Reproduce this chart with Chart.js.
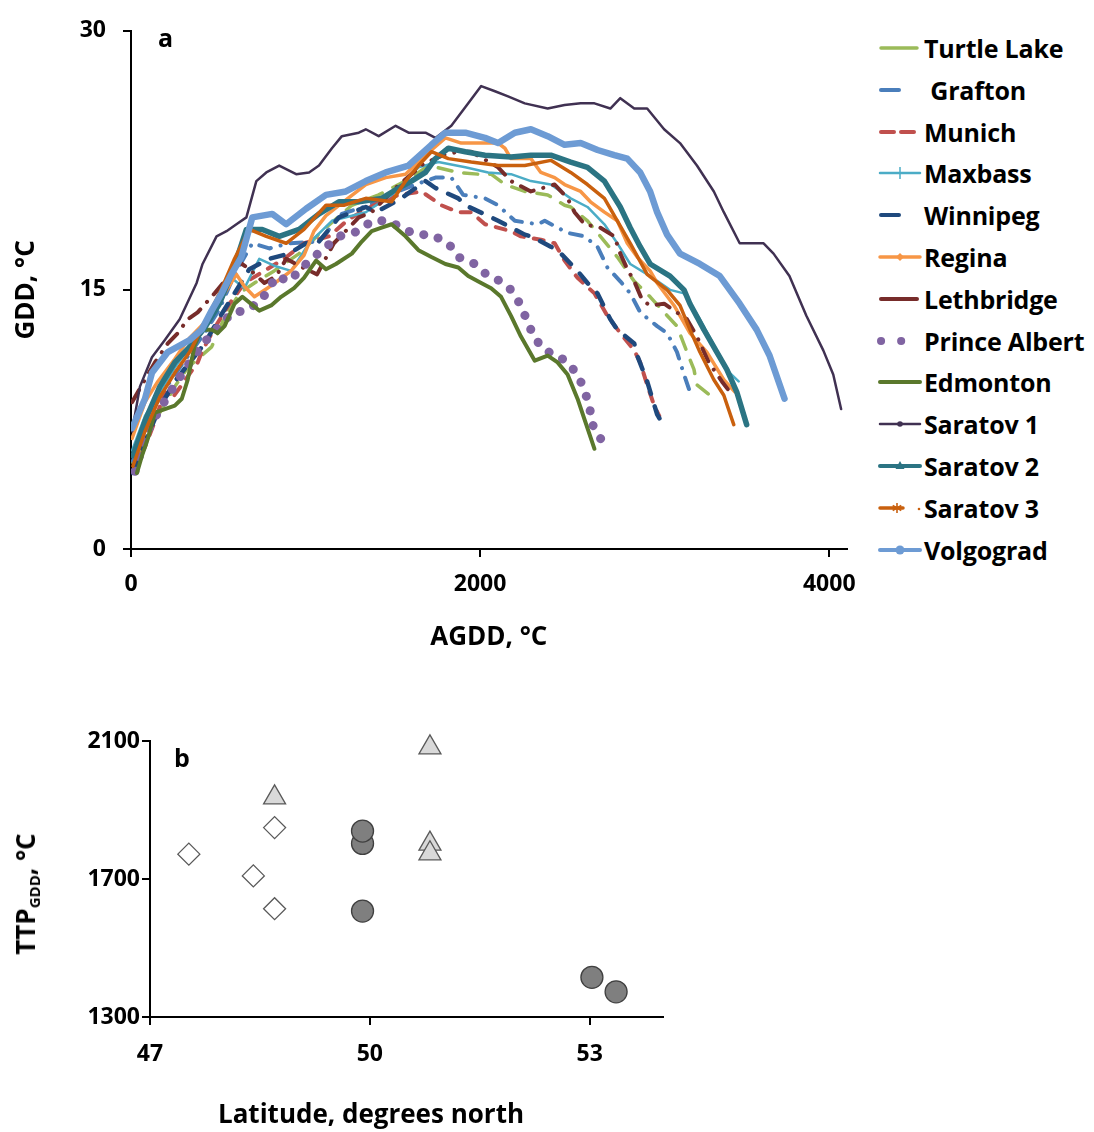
<!DOCTYPE html>
<html>
<head>
<meta charset="utf-8">
<title>GDD vs AGDD</title>
<script src="https://cdn.jsdelivr.net/npm/chart.js@4.4.1/dist/chart.umd.min.js"></script>
<style>
  html, body { margin: 0; padding: 0; background: #fff; }
  body { width: 1094px; height: 1132px; position: relative; overflow: hidden;
         font-family: "Open Sans", "Liberation Sans", sans-serif; font-weight: 700; color: #000; }
  canvas { position: absolute; left: 0; }
  #chartA { top: 0; }
  #chartB { top: 660px; }
  .panel-tag { position: absolute; font-size: 25px; line-height: 1; }
  .key-row { position: absolute; left: 876px; height: 30px; display: flex; align-items: center;
             font-size: 25px; white-space: pre; letter-spacing: -0.2px; }
  .key-row svg { flex: none; }
  .axis-name { position: absolute; font-size: 26px; line-height: 1; white-space: nowrap; transform: translate(-50%, -50%); }
  .axis-name sub { font-size: 15px; vertical-align: -5px; }
</style>
</head>
<body>
<canvas id="chartA" width="870" height="660"></canvas>
<canvas id="chartB" width="700" height="472"></canvas>
<div class="panel-tag" style="left:158px;top:25px">a</div>
<div class="panel-tag" style="left:174px;top:745px">b</div>
<div class="axis-name" style="left:27px;top:894px;transform:translate(-50%,-50%) rotate(-90deg)">TTP<sub>GDD</sub>, °C</div>
<div class="axis-name" style="left:371px;top:1113px">Latitude, degrees north</div>
<div id="key"></div>
<script>
// panel a: daily GDD against accumulated GDD, one curve per site ([AGDD, GDD])
const agddTicks = [0, 2000, 4000];
const gddTicks = [0, 15, 30];

const siteNames = ['Turtle Lake', ' Grafton', 'Munich', 'Maxbass', 'Winnipeg', 'Regina', 'Lethbridge',
  'Prince Albert', 'Edmonton', 'Saratov 1', 'Saratov 2', 'Saratov 3', 'Volgograd'];

const turtleLake = [[11,5.0],[80,6.2],[165,7.9],[251,9.4],[325,10.5],[393,11.1],[462,11.7],[536,13.4],[621,14.8],[707,15.4],[820,16.1],[963,17.1],[1105,18.5],[1265,19.9],[1419,20.5],[1590,21.4],[1704,22.2],[1875,21.8],[1989,21.7],[2063,21.7],[2142,21.1],[2256,20.7],[2387,20.5],[2484,19.9],[2519,19.8],[2615,19.0],[2689,18.1],[2786,16.9],[2883,15.5],[2974,14.6],[3054,13.7],[3128,12.9],[3185,11.4],[3225,10.4],[3242,9.5],[3316,8.9]];
const grafton = [[11,5.1],[80,7.1],[165,8.8],[251,10.1],[336,11.3],[422,12.5],[507,13.9],[593,15.9],[695,17.7],[792,17.4],[906,17.7],[1077,17.8],[1208,19.4],[1362,19.9],[1504,20.6],[1630,21.1],[1744,21.5],[1835,21.5],[1903,20.5],[2028,20.3],[2103,19.9],[2199,19.0],[2330,18.8],[2370,19.0],[2501,18.3],[2598,18.1],[2672,17.5],[2729,16.3],[2803,15.5],[2860,14.8],[2917,13.7],[3014,12.9],[3071,12.5],[3128,11.4],[3168,10.1],[3202,9.1]];
const munich = [[11,4.5],[80,5.9],[137,7.4],[194,9.1],[234,8.7],[291,9.5],[382,10.8],[405,11.4],[479,12.8],[564,14.2],[650,15.4],[764,16.1],[877,16.8],[991,17.7],[1134,18.1],[1248,19.1],[1390,19.9],[1533,20.5],[1664,20.7],[1778,19.9],[1875,19.5],[1949,19.5],[2028,18.8],[2177,18.4],[2234,18.1],[2348,17.9],[2427,17.7],[2484,16.7],[2558,15.7],[2655,14.8],[2729,13.5],[2803,12.5],[2883,11.5],[2917,10.8],[2957,9.5],[2997,8.3],[3026,7.7]];
const maxbass = [[6,5.7],[80,7.7],[165,9.1],[251,10.5],[336,11.7],[422,12.8],[507,14.2],[575,15.7],[650,15.1],[735,16.8],[820,16.4],[917,16.1],[1020,17.7],[1151,19.0],[1345,19.5],[1493,20.5],[1647,22.1],[1761,22.4],[1915,22.1],[2046,21.8],[2177,21.7],[2291,21.3],[2405,21.1],[2519,20.3],[2615,19.8],[2712,18.8],[2786,17.7],[2860,16.5],[2974,15.8],[3088,15.0],[3168,14.8],[3259,13.3],[3356,11.5],[3430,10.2],[3481,9.7]];
const winnipeg = [[11,4.4],[80,6.2],[165,8.2],[251,9.7],[336,10.8],[422,11.9],[507,13.4],[593,14.8],[678,16.2],[792,16.8],[906,17.1],[1003,17.7],[1077,17.8],[1191,19.2],[1345,19.8],[1402,19.5],[1533,20.2],[1687,21.3],[1744,20.9],[1875,20.3],[1915,19.9],[2063,19.2],[2103,19.0],[2256,18.2],[2291,18.1],[2405,17.5],[2444,17.3],[2558,16.1],[2615,15.4],[2672,14.8],[2746,13.3],[2786,12.7],[2883,11.9],[2900,11.2],[2957,9.7],[3014,7.8],[3054,7.1]];
const regina = [[6,6.4],[80,8.5],[154,9.7],[251,11.0],[325,12.1],[382,12.7],[479,13.7],[536,14.8],[604,15.9],[650,15.2],[707,14.6],[781,15.1],[838,15.5],[917,16.1],[991,17.0],[1048,18.4],[1117,19.3],[1191,19.9],[1345,21.1],[1459,21.5],[1573,21.7],[1687,22.8],[1801,23.8],[1892,23.5],[2028,23.5],[2103,23.5],[2142,23.2],[2177,22.6],[2291,22.6],[2348,21.8],[2427,21.5],[2484,21.1],[2576,20.7],[2632,20.1],[2712,19.5],[2786,19.0],[2843,17.7],[2900,16.9],[2974,16.1],[3014,15.4],[3111,14.1],[3202,12.5],[3299,11.4],[3396,9.8],[3459,9.1]];
const lethbridge = [[6,8.5],[80,9.8],[137,10.8],[211,11.9],[268,12.5],[325,13.3],[382,13.7],[479,14.8],[553,15.7],[621,16.6],[678,16.2],[764,15.4],[832,15.8],[889,16.8],[963,16.4],[1066,15.9],[1162,17.7],[1305,19.2],[1379,19.5],[1504,20.8],[1607,21.7],[1675,22.3],[1789,22.8],[1875,23.0],[1949,23.0],[2103,22.1],[2177,21.3],[2291,20.7],[2427,21.1],[2501,20.3],[2541,19.5],[2598,18.8],[2689,18.6],[2769,18.1],[2803,17.1],[2843,16.2],[2883,15.5],[2929,14.4],[2974,14.1],[3054,14.2],[3185,13.3],[3242,12.3],[3310,10.8],[3385,9.7],[3453,8.8]];
const princeAlbert = [[23,4.5],[63,5.9],[108,7.1],[177,8.3],[251,9.5],[336,10.8],[405,11.8],[496,12.8],[581,13.7],[661,13.8],[746,14.4],[792,15.1],[832,15.8],[906,15.5],[1003,16.5],[1094,17.3],[1191,18.1],[1305,18.4],[1379,19.0],[1476,19.0],[1550,18.6],[1630,18.2],[1721,18.2],[1818,17.7],[1875,16.9],[1971,16.5],[2046,15.8],[2120,15.5],[2177,15.0],[2234,14.1],[2273,13.1],[2313,12.2],[2370,11.5],[2444,11.2],[2501,10.8],[2558,10.1],[2598,9.2],[2627,8.2],[2644,7.2],[2701,6.2]];
const edmonton = [[34,4.4],[63,5.4],[97,6.4],[137,7.9],[194,8.1],[251,8.3],[291,8.7],[325,9.8],[365,11.8],[405,12.7],[462,12.7],[496,12.5],[536,12.9],[593,14.2],[638,14.6],[735,13.8],[803,14.1],[860,14.6],[934,15.1],[991,15.7],[1060,16.7],[1117,16.2],[1174,16.5],[1265,17.1],[1322,17.8],[1379,18.4],[1436,18.6],[1493,18.8],[1573,18.1],[1647,17.3],[1721,16.9],[1801,16.5],[1875,16.3],[1932,15.8],[2006,15.4],[2063,15.1],[2120,14.6],[2177,13.5],[2234,12.3],[2313,10.9],[2387,11.2],[2444,10.8],[2501,10.1],[2558,8.7],[2598,7.5],[2655,5.8]];
const saratov1 = [[6,6.8],[51,9.4],[120,11.1],[194,12.1],[279,13.3],[376,15.4],[410,16.5],[490,18.1],[547,18.4],[604,18.8],[661,19.2],[718,21.3],[775,21.8],[849,22.2],[946,21.7],[1020,21.8],[1077,22.2],[1151,23.2],[1208,23.9],[1305,24.1],[1345,24.3],[1419,23.9],[1516,24.5],[1590,24.1],[1687,24.1],[1744,23.8],[1835,24.5],[1932,25.8],[2006,26.8],[2085,26.5],[2160,26.2],[2256,25.8],[2387,25.5],[2484,25.7],[2576,25.8],[2655,25.8],[2746,25.5],[2803,26.1],[2883,25.5],[2957,25.5],[3054,24.3],[3145,23.5],[3242,22.2],[3339,20.7],[3396,19.5],[3487,17.7],[3624,17.7],[3681,17.1],[3772,15.8],[3869,13.5],[3966,11.5],[4023,10.1],[4068,8.1]];
const saratov2 = [[11,5.4],[80,7.4],[165,9.4],[251,10.8],[336,11.7],[422,12.8],[507,14.2],[593,16.4],[661,18.5],[752,18.5],[849,18.1],[963,18.5],[1077,19.4],[1191,20.1],[1305,20.1],[1436,20.3],[1533,20.9],[1607,21.3],[1687,21.8],[1744,22.6],[1818,23.2],[1915,23.0],[2028,22.8],[2177,22.7],[2291,22.8],[2405,22.8],[2519,22.4],[2615,22.1],[2712,21.3],[2803,19.8],[2860,18.6],[2917,17.5],[2974,16.5],[3088,15.8],[3168,15.0],[3202,14.2],[3282,12.7],[3356,11.4],[3413,10.4],[3470,9.1],[3527,7.2]];
const saratov3 = [[11,4.8],[80,6.8],[165,8.8],[251,10.2],[336,11.4],[422,13.1],[507,14.8],[593,16.8],[678,18.5],[775,18.1],[889,17.7],[991,18.5],[1117,19.9],[1219,19.9],[1345,20.3],[1493,20.1],[1573,21.3],[1647,22.2],[1721,23.0],[1818,22.6],[1949,22.4],[2103,22.2],[2256,22.2],[2405,22.5],[2519,21.8],[2615,21.1],[2712,20.3],[2786,19.0],[2860,17.7],[2957,15.9],[3071,15.0],[3145,14.1],[3202,12.7],[3259,11.4],[3339,9.8],[3396,8.9],[3453,7.2]];
const volgograd = [[6,7.0],[80,8.7],[120,10.2],[211,11.4],[336,12.1],[405,12.7],[462,13.8],[519,14.8],[575,15.9],[632,16.9],[695,19.2],[809,19.4],[889,18.8],[1003,19.7],[1117,20.5],[1231,20.7],[1345,21.3],[1459,21.8],[1590,22.2],[1721,23.4],[1801,24.1],[1915,24.1],[2028,23.8],[2103,23.5],[2199,24.1],[2291,24.3],[2387,23.9],[2484,23.4],[2576,23.5],[2673,23.1],[2769,22.8],[2843,22.6],[2917,21.8],[2974,20.7],[3014,19.5],[3071,18.2],[3145,17.1],[3259,16.5],[3373,15.8],[3487,14.2],[3584,12.7],[3658,11.2],[3744,8.7]];

// panel b: thermal time to peak vs latitude, three marker groups
const latTicks = [47, 50, 53];
const ttpTicks = [1300, 1700, 2100];
const diamondLat = [47.53, 48.70, 48.41, 48.70];
const diamondTtp = [1772, 1849, 1709, 1614];
const triangleLat = [48.70, 50.82, 50.82, 50.82];
const triangleTtp = [1936, 2081, 1802, 1774];
const circleLat = [49.90, 49.90, 49.90, 53.03, 53.36];
const circleTtp = [1803, 1839, 1607, 1415, 1373];

const curves = [turtleLake, grafton, munich, maxbass, winnipeg, regina, lethbridge,
  princeAlbert, edmonton, saratov1, saratov2, saratov3, volgograd];

// line looks, roughly the excel styles
const looks = [
  { color: '#9bbb59', width: 3.5, dash: [14, 12], key: { x1: 5, x2: 41 } },
  { color: '#4a7ebb', width: 4, dash: [12, 10, 0.1, 10], key: { x1: 5, x2: 23 } },
  { color: '#c0504d', width: 4, dash: [10, 10], key: { x1: 5, x2: 42, dash: '13 7' } },
  { color: '#4bacc6', width: 2.5, dash: [], key: { x1: 4, x2: 44, mark: 'plus' } },
  { color: '#1f497d', width: 4.5, dash: [13, 13], key: { x1: 5, x2: 23 } },
  { color: '#f79646', width: 3.5, dash: [], key: { x1: 4, x2: 44, mark: 'diamond' } },
  { color: '#772c2a', width: 4, dash: [14, 10, 0.1, 10], key: { x1: 5, x2: 41 } },
  { color: '#8064a2', width: 9, dash: [0.1, 15], key: { x1: 5, x2: 45, dash: '0.1 20', w: 8 } },
  { color: '#5a782c', width: 4, dash: [], key: { x1: 4, x2: 44 } },
  { color: '#403152', width: 2.5, dash: [], key: { x1: 4, x2: 44, mark: 'dot' } },
  { color: '#2b7483', width: 5.5, dash: [], key: { x1: 4, x2: 44, mark: 'triangle' } },
  { color: '#c9600e', width: 3.5, dash: [], key: { x1: 4, x2: 27, mark: 'star' } },
  { color: '#6d9bd4', width: 6.5, dash: [], key: { x1: 4, x2: 44, mark: 'circle' } }
];

const fam = '"Open Sans", "Liberation Sans", sans-serif';
const boldFont = (size) => ({ family: fam, size: size, weight: 'bold' });
const plain = (v) => String(v);

const siteSets = curves.map((pts, i) => ({
  label: siteNames[i].trim(),
  data: pts.map(p => ({ x: p[0], y: p[1] })),
  showLine: true,
  pointRadius: 0,
  borderColor: looks[i].color,
  backgroundColor: looks[i].color,
  borderWidth: looks[i].width,
  borderDash: looks[i].dash,
  borderCapStyle: 'round',
  borderJoinStyle: 'round',
  tension: 0,
  order: curves.length - i   // later sites on top, like excel
}));

new Chart(document.getElementById('chartA'), {
  type: 'scatter',
  data: { datasets: siteSets },
  options: {
    responsive: false,
    animation: false,
    devicePixelRatio: 1,
    layout: { padding: { left: 0, top: 24, right: 19, bottom: 0 } },
    plugins: { legend: { display: false }, tooltip: { enabled: false } },
    scales: {
      x: {
        type: 'linear', min: 0, max: 4100,
        afterBuildTicks: (s) => { s.ticks = agddTicks.map(v => ({ value: v })); },
        afterFit: (s) => { s.height = 111; },
        border: { color: '#000', width: 2 },
        grid: { drawOnChartArea: false, color: '#000', lineWidth: 2, tickLength: 8 },
        ticks: { color: '#000', font: boldFont(23), padding: 14, maxRotation: 0, callback: plain },
        title: { display: true, text: 'AGDD, °C', color: '#000', font: boldFont(26), padding: { top: 0, bottom: 7 } }
      },
      y: {
        type: 'linear', min: 0, max: 30,
        afterBuildTicks: (s) => { s.ticks = gddTicks.map(v => ({ value: v })); },
        afterFit: (s) => { s.width = 131; },
        border: { color: '#000', width: 2 },
        grid: { drawOnChartArea: false, color: '#000', lineWidth: 2, tickLength: 8 },
        ticks: { color: '#000', font: boldFont(23), padding: 17, callback: plain },
        title: { display: true, text: 'GDD, °C', color: '#000', font: boldFont(26), padding: { top: 11, bottom: 0 } }
      }
    }
  }
});

// legend for panel a
const key = document.getElementById('key');
const keyTop = 48, keyStep = 41.8;

function markSvg(kind, color) {
  if (kind === 'plus') return `<line x1="24" y1="9" x2="24" y2="21" stroke="${color}" stroke-width="1.5"/>`;
  if (kind === 'diamond') return `<polygon points="24,11 28,15 24,19 20,15" fill="${color}"/>`;
  if (kind === 'dot') return `<circle cx="24" cy="15" r="2.8" fill="${color}"/>`;
  if (kind === 'triangle') return `<polygon points="24,10 28.5,18 19.5,18" fill="${color}"/>`;
  if (kind === 'circle') return `<circle cx="24" cy="15" r="4.5" fill="${color}"/>`;
  if (kind === 'star') {
    return `<g stroke="${color}" stroke-width="1.6"><line x1="21" y1="10" x2="21" y2="20"/><line x1="16.7" y1="12.5" x2="25.3" y2="17.5"/>` +
      `<line x1="16.7" y1="17.5" x2="25.3" y2="12.5"/></g><circle cx="43" cy="16" r="1.3" fill="${color}"/>`;
  }
  return '';
}

siteNames.forEach((name, i) => {
  const l = looks[i];
  const k = l.key;
  const row = document.createElement('div');
  row.className = 'key-row';
  row.style.top = (keyTop + i * keyStep - 15) + 'px';
  const dash = k.dash || 'none';
  const w = k.w || Math.min(l.width, 4);
  row.innerHTML = `<svg width="48" height="30" viewBox="0 0 48 30">` +
    `<line x1="${k.x1}" y1="15" x2="${k.x2}" y2="15" stroke="${l.color}" stroke-width="${w}" stroke-linecap="round" stroke-dasharray="${dash}"/>` +
    markSvg(k.mark, l.color) + `</svg><span>${name}</span>`;
  key.appendChild(row);
});

// panel b
const toPts = (xs, ys) => xs.map((x, i) => ({ x: x, y: ys[i] }));

new Chart(document.getElementById('chartB'), {
  type: 'scatter',
  data: {
    datasets: [
      { label: 'diamonds', data: toPts(diamondLat, diamondTtp), pointStyle: 'rectRot', pointRadius: 11,
        backgroundColor: '#ffffff', borderColor: '#595959', borderWidth: 1.3, clip: false },
      { label: 'triangles', data: toPts(triangleLat, triangleTtp), pointStyle: 'triangle', pointRadius: 12.7,
        backgroundColor: '#d9d9d9', borderColor: '#595959', borderWidth: 1.3, clip: false },
      { label: 'circles', data: toPts(circleLat, circleTtp), pointStyle: 'circle', pointRadius: 11,
        backgroundColor: '#7f7f7f', borderColor: '#404040', borderWidth: 1.3, clip: false }
    ]
  },
  options: {
    responsive: false,
    animation: false,
    devicePixelRatio: 1,
    layout: { padding: { left: 0, top: 81, right: 37, bottom: 0 } },
    plugins: { legend: { display: false }, tooltip: { enabled: false } },
    scales: {
      x: {
        type: 'linear', min: 47, max: 54,
        afterBuildTicks: (s) => { s.ticks = latTicks.map(v => ({ value: v })); },
        afterFit: (s) => { s.height = 115; },
        border: { color: '#000', width: 2 },
        grid: { drawOnChartArea: false, color: '#000', lineWidth: 2, tickLength: 8 },
        ticks: { color: '#000', font: boldFont(23), padding: 16, maxRotation: 0, callback: plain }
      },
      y: {
        type: 'linear', min: 1300, max: 2100,
        afterBuildTicks: (s) => { s.ticks = ttpTicks.map(v => ({ value: v })); },
        afterFit: (s) => { s.width = 150; },
        border: { color: '#000', width: 2 },
        grid: { drawOnChartArea: false, color: '#000', lineWidth: 2, tickLength: 8 },
        ticks: { color: '#000', font: boldFont(23), padding: 2, callback: plain }
      }
    }
  }
});
</script>
</body>
</html>
